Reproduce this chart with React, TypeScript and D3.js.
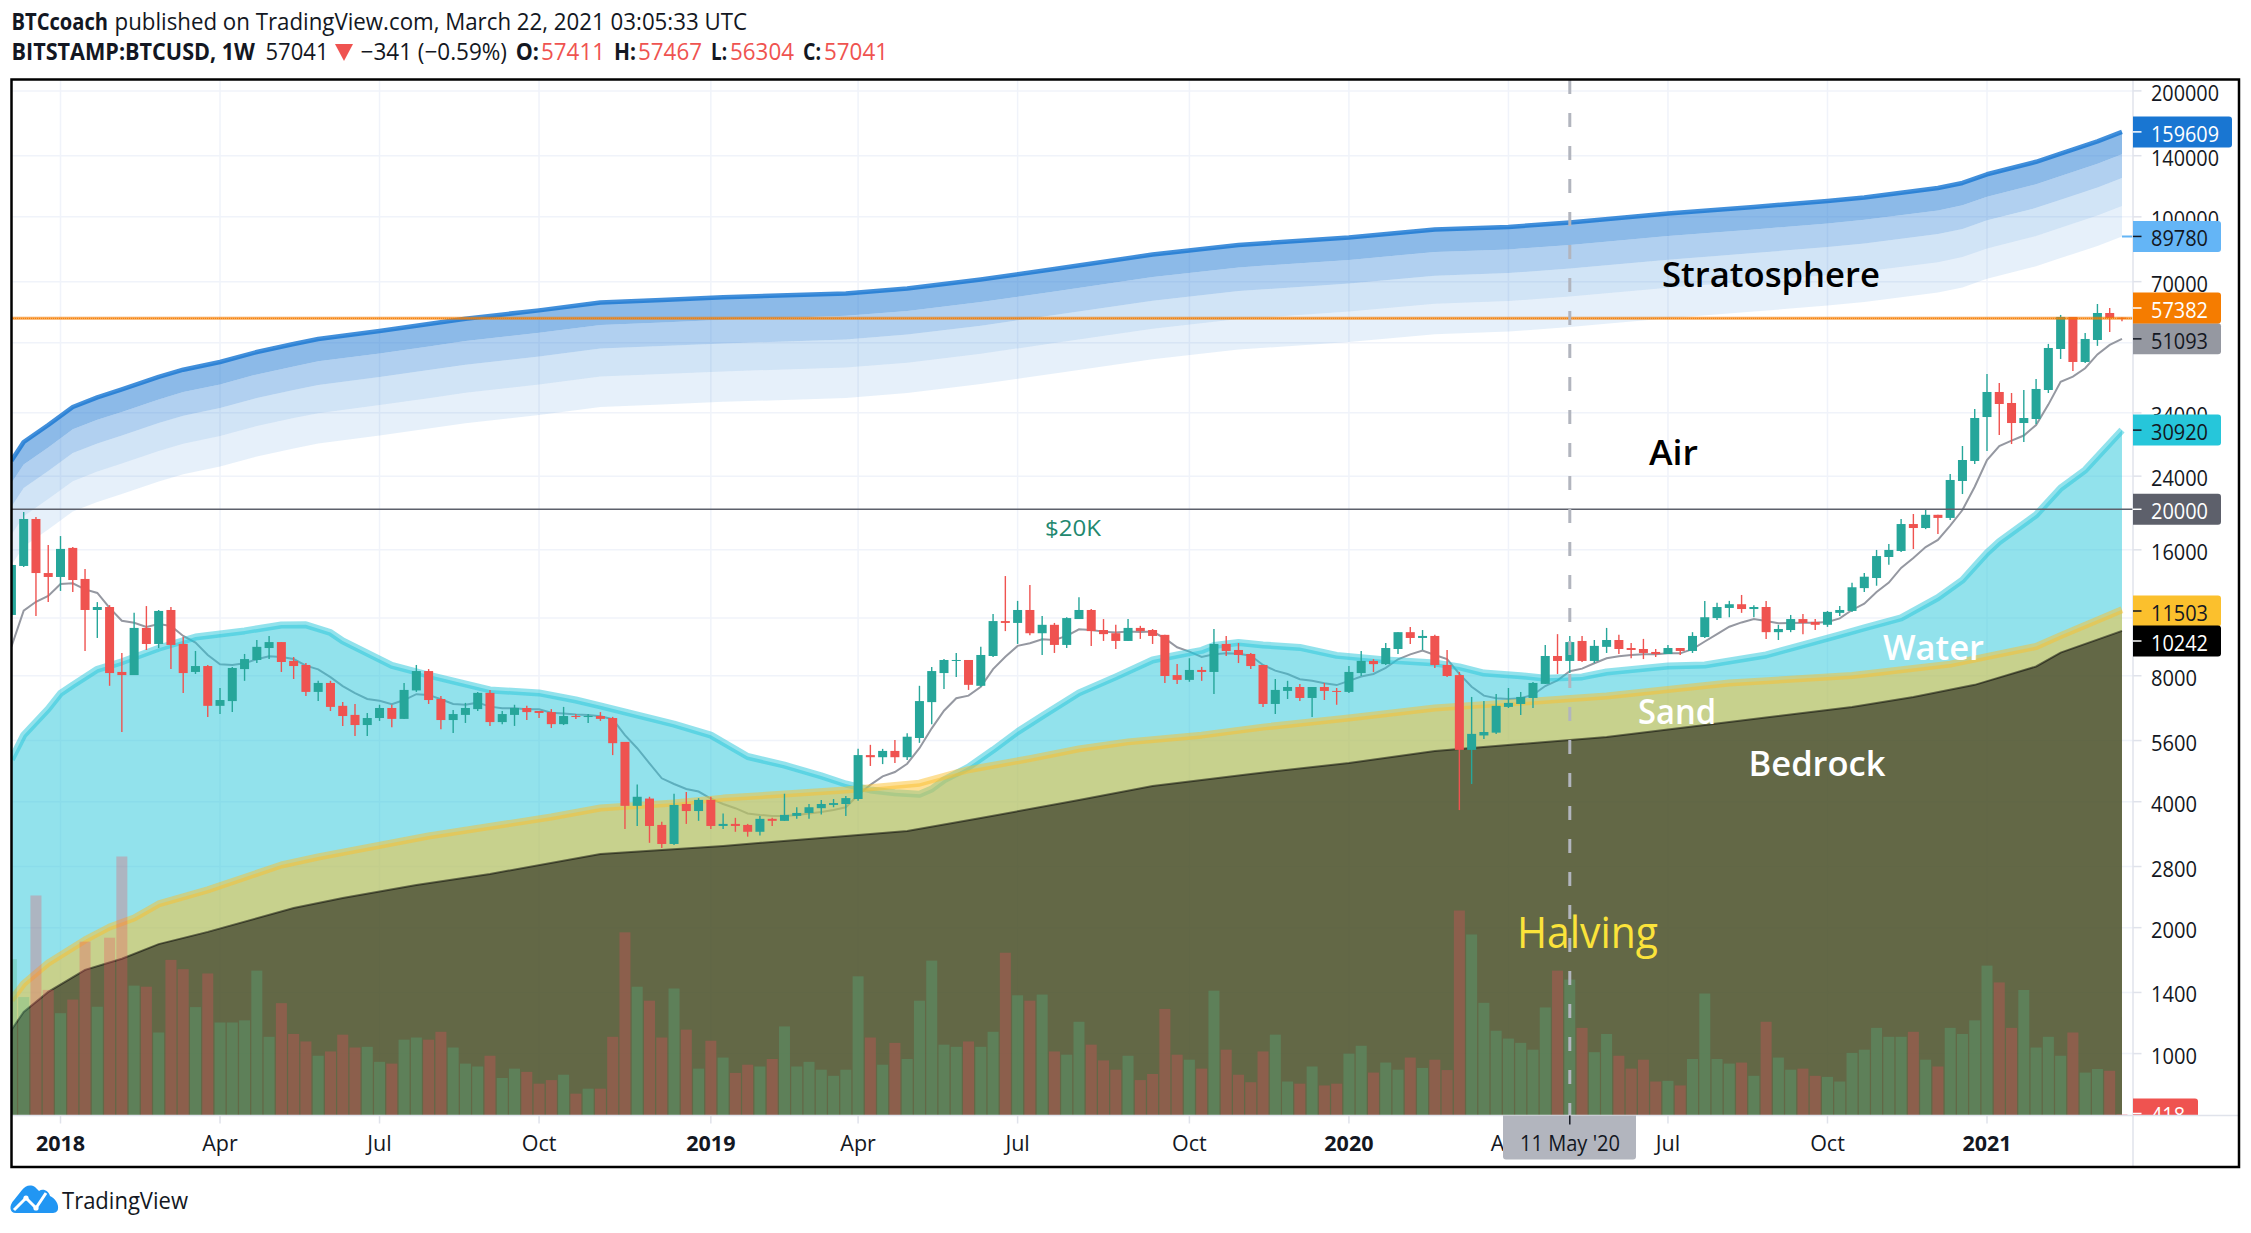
import React from 'react';
import * as d3 from 'd3';

// weekly [open, high, low, close]
const candles2017 = [
  [11180, 14800, 11050, 14720], [14640, 19700, 14560, 18960], [18960, 19170, 11110, 14080], [14080, 16430, 12000, 13780],
];
const candles2018 = [
  [13780, 17260, 12760, 16080], [16170, 16260, 12690, 13550], [13630, 14400, 9170, 11490], [11490, 12000, 9850, 11680],
  [11680, 11800, 7570, 8120], [8170, 9070, 5870, 8030], [8030, 11310, 8030, 10410], [10410, 11740, 9220, 9530],
  [9530, 11490, 9320, 11430], [11490, 11680, 8300, 9480], [9530, 9900, 7280, 8120], [8170, 9170, 8080, 8440],
  [8440, 8490, 6380, 6780], [6780, 7480, 6480, 7000], [6960, 8400, 6550, 8350], [8300, 9020, 7780, 8770],
  [8726, 9740, 8580, 9380], [9320, 9960, 8770, 9630], [9630, 9630, 8170, 8630], [8680, 8870, 7860, 8440],
  [8490, 8580, 7160, 7320], [7320, 7780, 6960, 7690], [7690, 7780, 6590, 6740], [6780, 6920, 6070, 6410],
  [6450, 6850, 5740, 6100], [6100, 6520, 5740, 6340], [6340, 6820, 6240, 6700], [6700, 6820, 6030, 6310],
  [6310, 7690, 6310, 7400], [7380, 8490, 7320, 8210], [8210, 8300, 6850, 7000], [7040, 7160, 5960, 6270],
  [6270, 6630, 5840, 6480], [6450, 6890, 6170, 6700], [6660, 7320, 6590, 7280], [7280, 7400, 6070, 6200],
  [6200, 6590, 6130, 6480], [6450, 6820, 6070, 6700], [6700, 6780, 6270, 6550], [6590, 6590, 6340, 6520],
  [6550, 6660, 6000, 6130], [6130, 6740, 6100, 6410], [6410, 6480, 6310, 6380], [6380, 6480, 6170, 6410],
  [6410, 6550, 6240, 6310], [6340, 6380, 5170, 5520], [5560, 5560, 3440, 3910], [3910, 4400, 3500, 4110],
  [4070, 4110, 3190, 3500], [3520, 3580, 3100, 3170], [3170, 4180, 3150, 3930], [3950, 4220, 3540, 3800],
  [3800, 4080, 3600, 4040],
];
const candles2019 = [
  [4040, 4110, 3440, 3500], [3500, 3750, 3440, 3540], [3540, 3660, 3390, 3500], [3520, 3540, 3300, 3390],
  [3390, 3700, 3320, 3640], [3640, 3660, 3500, 3600], [3600, 4180, 3600, 3720], [3700, 3880, 3640, 3760],
  [3760, 3950, 3640, 3880], [3860, 4040, 3730, 3950], [3930, 4060, 3880, 3970], [3950, 4130, 3700, 4080],
  [4060, 5350, 4020, 5170], [5170, 5470, 4870, 5110], [5110, 5350, 4920, 5290], [5290, 5620, 4950, 5110],
  [5110, 5830, 5030, 5720], [5680, 7570, 5530, 6960], [6920, 8400, 6130, 8210], [8120, 8770, 7440, 8726],
  [8680, 9070, 7950, 8726], [8726, 8726, 7400, 7610], [7570, 9380, 7530, 8970], [8920, 11240, 8870, 10810],
  [10810, 13850, 10230, 10700], [10700, 12080, 9530, 11490], [11490, 13190, 10000, 10110], [10110, 11110, 8970, 10590],
  [10590, 10700, 9070, 9480], [9480, 11040, 9320, 10990], [10930, 12330, 10930, 11490], [11490, 11550, 9430, 10230],
  [10290, 10930, 9690, 10060], [10110, 10600, 9270, 9690], [9690, 10930, 9690, 10410], [10410, 10530, 9800, 10230],
  [10290, 10350, 9530, 9960], [10020, 10020, 7690, 7990], [8030, 8530, 7650, 7820], [7820, 8810, 7740, 8260],
  [8260, 8400, 7780, 8170], [8170, 10350, 7240, 9530], [9530, 9960, 8920, 9170], [9220, 9580, 8580, 8970],
  [9020, 9070, 8300, 8440], [8490, 8490, 6740, 6850], [6850, 7860, 6480, 7400], [7360, 7780, 7040, 7520],
  [7520, 7650, 6960, 7080], [7080, 7520, 6380, 7520], [7520, 7690, 7000, 7360], [7360, 7480, 6820, 7320],
];
const candles2020 = [
  [7320, 8440, 7280, 8170], [8120, 9170, 7990, 8680], [8680, 8770, 8170, 8530], [8530, 9580, 8490, 9320],
  [9270, 10170, 9020, 10170], [10170, 10470, 9530, 9850], [9850, 10290, 9220, 9960], [9960, 10020, 8350, 8490],
  [8490, 9220, 7950, 7990], [8030, 8170, 3820, 5320], [5320, 7120, 4410, 5810], [5760, 6960, 5650, 5870],
  [5850, 7240, 5810, 6780], [6740, 7480, 6700, 6890], [6850, 7320, 6450, 7120], [7080, 7730, 6700, 7690],
  [7650, 9480, 7650, 8920], [8920, 10060, 8080, 8680], [8680, 9960, 8120, 9630], [9690, 9960, 8630, 8680],
  [8680, 9740, 8580, 9430], [9380, 10410, 9070, 9740], [9740, 10020, 9020, 9270], [9320, 9580, 8810, 9220],
  [9270, 9800, 8770, 9070], [9120, 9270, 8870, 9020], [9020, 9480, 9020, 9320], [9320, 9320, 8970, 9170],
  [9170, 10170, 9070, 9960], [9900, 12080, 9850, 11040], [10990, 11950, 10875, 11680], [11620, 12080, 11040, 11860],
  [11860, 12480, 11310, 11550], [11550, 11800, 11040, 11680], [11680, 12080, 9800, 10170], [10170, 10590, 9740, 10350],
  [10290, 11180, 10170, 10930], [10930, 11240, 10060, 10700], [10760, 10930, 10290, 10590], [10590, 11430, 10470, 11370],
  [11310, 11740, 11110, 11490], [11430, 13350, 11370, 13020], [12960, 14080, 12690, 13800], [13700, 15990, 13130, 15460],
  [15380, 16520, 14730, 15990], [15900, 18960, 15820, 18440], [18440, 19490, 16070, 18040], [18040, 20000, 17930, 19400],
  [19400, 19400, 17460, 19070], [19070, 24280, 18860, 23500], [23370, 28330, 21750, 26230], [26090, 34730, 25660, 33050],
];
const candles2021 = [
  [33230, 42100, 27570, 38140], [38140, 40100, 30090, 35700], [35900, 37930, 28640, 32150], [32150, 38560, 28960, 33050],
  [32870, 40970, 31980, 38780], [38560, 49690, 37930, 48590], [48320, 58280, 45740, 57640], [57640, 57640, 42800, 44990],
  [44990, 52770, 44740, 51060], [50780, 61900, 49160, 58910], [58910, 60560, 53060, 57320], [57411, 57467, 56304, 57041],
];
const candles = [...candles2017, ...candles2018, ...candles2019, ...candles2020, ...candles2021];

const volumes = [
  43700, 33100, 61500, 35100, 28600, 32400, 48600, 30400, 49700, 72400, 36300, 36000, 23200, 43500, 40900, 30300,
  39700, 26000, 26000, 26600, 40500, 22000, 31400, 22800, 20700, 16700, 17900, 22600, 19000, 19200, 15000, 14500,
  21200, 21800, 21200, 23400, 19000, 14500, 13700, 16700, 10500, 13100, 12200, 8900, 9900, 11400, 6100, 7500,
  7500, 22000, 51200, 36000, 32100, 21800, 35500, 24000, 13100, 20900, 16200, 11900, 14200, 13700, 15800, 24900,
  13700, 15000, 12800, 11100, 12800, 38900, 21800, 14200, 20300, 15800, 32100, 43300, 19800, 19200, 20700, 19200,
  23400, 45500, 33600, 32100, 33800, 17900, 17000, 26200, 19800, 15400, 12800, 16700, 9900, 11600, 29800, 17000,
  15600, 13100, 34900, 18400, 11400, 9300, 17900, 22600, 9500, 8900, 13700, 8400, 8900, 17300, 19500, 12000,
  14800, 12800, 16200, 13300, 15600, 12700, 57300, 50600, 31500, 23700, 21500, 20300, 18400, 30200, 40500, 38000,
  24500, 17700, 22800, 16700, 13100, 15600, 9500, 9700, 8400, 15800, 34100, 15800, 14500, 14800, 11100, 26200,
  16200, 12800, 13100, 11100, 10800, 9500, 17500, 18400, 24500, 22000, 22000, 23400, 15600, 13700, 24500, 22800,
  26600, 41900, 37200, 24500, 35100, 19000, 22000, 16700, 23200, 12000, 13000, 12500, 418,
];

const maValues = [
  9390, 11450, 12020, 12410, 13260, 13310, 12870, 12620, 11620, 10830, 10710, 10470, 10640, 10520, 9960, 9600,
  8970, 8520, 8490, 8570, 8760, 8910, 8870, 8770, 8460, 8290, 7940, 7560, 7270, 7040, 6970, 6840,
  7000, 7230, 7200, 7030, 6850, 6820, 6900, 6750, 6690, 6690, 6650, 6650, 6530, 6500, 6460, 6450,
  6400, 6300, 5770, 5370, 4940, 4550, 4410, 4290, 4230, 4070, 3950, 3860, 3750, 3720, 3700, 3700,
  3720, 3750, 3780, 3820, 3880, 4150, 4390, 4600, 4710, 4930, 5370, 5990, 6600, 7070, 7170, 7530,
  8300, 8880, 9430, 9570, 9780, 9740, 9960, 10330, 10290, 10200, 10150, 10200, 10180, 10200, 9830, 9360,
  9140, 8870, 9000, 9050, 9030, 8930, 8490, 8230, 8080, 7850, 7780, 7680, 7600, 7780, 7970, 8080,
  8360, 8760, 9000, 9190, 8970, 8770, 8080, 7530, 7170, 7070, 7040, 7070, 7200, 7560, 7800, 8200,
  8320, 8570, 8810, 8910, 8970, 9000, 9000, 9050, 9050, 9260, 9660, 10060, 10480, 10730, 10930, 10810,
  10680, 10700, 10710, 10710, 10750, 10970, 11490, 11900, 12690, 13360, 14480, 15300, 16240, 16890, 18280, 19920,
  22640, 26230, 28330, 29170, 30010, 31800, 35580, 40360, 41500, 43460, 46890, 49420, 51093,
];

// stratosphere band lines, sampled at these week numbers
const bandWeeks = [0, 1, 3, 5, 7, 9, 12, 14, 17, 20, 23, 25, 30, 34, 37, 43, 48, 53, 58, 68, 73, 79, 85, 93, 100, 109, 116, 122, 127, 135, 142, 148, 151, 157, 159, 161, 165, 167, 170, 172];
const bandTop = [26130, 28960, 31800, 35120, 37030, 38670, 41430, 43120, 44990, 47530, 49670, 51060, 53360, 55440, 57100, 59760, 62420, 63280, 64220, 65620, 67400, 70800, 75050, 81250, 85650, 89270, 93230, 94570, 96950, 101800, 105580, 109120, 111250, 117200, 120500, 126400, 135400, 141650, 151500, 159609];
const bandSecond = [23100, 25600, 28110, 31050, 32730, 34180, 36620, 38120, 39770, 42020, 43910, 45140, 47170, 49010, 50480, 52830, 55180, 55940, 56770, 58010, 59580, 62590, 66340, 71830, 75710, 78910, 82420, 83600, 85700, 89990, 93330, 96460, 98350, 103600, 106520, 111740, 119690, 125220, 133930, 141100];
const bandThird = [20280, 22470, 24680, 27250, 28740, 30010, 32150, 33460, 34910, 36880, 38540, 39620, 41410, 43020, 44310, 46370, 48440, 49110, 49830, 50920, 52300, 54940, 58240, 63050, 66460, 69270, 72350, 73390, 75230, 79000, 81930, 84680, 86330, 90950, 93510, 98090, 105070, 109920, 117560, 123860];
const bandFourth = [17380, 19260, 21150, 23350, 24620, 25720, 27550, 28670, 29920, 31610, 33030, 33950, 35480, 36870, 37970, 39740, 41510, 42080, 42710, 43640, 44820, 47080, 49910, 54030, 56960, 59370, 62000, 62890, 64470, 67700, 70210, 72570, 73980, 77940, 80130, 84060, 90040, 94200, 100750, 106140];
const bandBottom = [14700, 16290, 17890, 19760, 20830, 21750, 23300, 24260, 25310, 26740, 27940, 28720, 30020, 31190, 32120, 33620, 35110, 35600, 36120, 36910, 37910, 39830, 42220, 45700, 48180, 50210, 52440, 53200, 54530, 57260, 59390, 61380, 62580, 65930, 67780, 71100, 76160, 79680, 85220, 89780];

const waterWeeks = [0, 1, 3, 4, 5, 7, 9, 12, 15, 19, 22, 24, 26, 27, 31, 34, 39, 43, 46, 48, 54, 57, 60, 63, 66, 68, 70, 72, 74, 75, 76, 78, 80, 82, 84, 87, 90, 93, 95, 97, 98, 100, 102, 105, 108, 112, 116, 118, 120, 123, 125, 128, 130, 135, 138, 141, 143, 146, 149, 151, 154, 157, 159, 160, 161, 162, 165, 167, 169, 172];
const waterValues = [5046, 5770, 6665, 7260, 7600, 8290, 8640, 9310, 9900, 10240, 10580, 10590, 10150, 9690, 8470, 8030, 7400, 7280, 7000, 6780, 6130, 5770, 5130, 4890, 4610, 4410, 4267, 4200, 4170, 4290, 4510, 4840, 5317, 5880, 6410, 7280, 7950, 8726, 8970, 9200, 9450, 9610, 9480, 9350, 8950, 8726, 8580, 8400, 8120, 8000, 7890, 7950, 8170, 8440, 8490, 8770, 8970, 9480, 10020, 10410, 11000, 12300, 13550, 14600, 15730, 16740, 19400, 22470, 24830, 30920];

const sandWeeks = [0, 1, 3, 6, 8, 10, 12, 16, 22, 25, 34, 44, 48, 54, 58, 68, 74, 78, 83, 87, 91, 97, 102, 109, 116, 123, 130, 140, 150, 158, 165, 167, 172];
const sandValues = [1344, 1470, 1646, 1869, 2007, 2110, 2279, 2462, 2823, 2950, 3312, 3678, 3864, 3974, 4080, 4267, 4430, 4770, 5070, 5350, 5560, 5770, 6030, 6340, 6700, 6920, 7160, 7690, 8010, 8530, 9400, 9980, 11503];

const rockWeeks = [0, 1, 3, 6, 9, 12, 16, 23, 27, 33, 39, 48, 58, 68, 73, 79, 87, 93, 101, 109, 116, 130, 138, 150, 155, 160, 165, 167, 172];
const rockValues = [1139, 1258, 1404, 1585, 1685, 1827, 1954, 2229, 2355, 2530, 2688, 3001, 3136, 3312, 3404, 3657, 4038, 4360, 4660, 4950, 5290, 5710, 6100, 6740, 7120, 7610, 8420, 9090, 10242];

const priceTicks = [200000, 140000, 100000, 70000, 50000, 34000, 24000, 16000, 11000, 8000, 5600, 4000, 2800, 2000, 1400, 1000];
// these two have a grid line but their labels sit fully behind the price tags
const coveredTicks = [50000, 11000];
const timeTicks = [
  { week: 4, label: '2018', bold: true }, { week: 17, label: 'Apr' }, { week: 30, label: 'Jul' }, { week: 43, label: 'Oct' },
  { week: 57, label: '2019', bold: true }, { week: 69, label: 'Apr' }, { week: 82, label: 'Jul' }, { week: 96, label: 'Oct' },
  { week: 109, label: '2020', bold: true }, { week: 122, label: 'Apr' }, { week: 135, label: 'Jul' }, { week: 148, label: 'Oct' },
  { week: 161, label: '2021', bold: true },
];
const HALVING_WEEK = 127;
const RESISTANCE = 57382;
const BTC_20K = 20000;

const UP = '#26a69a';
const DOWN = '#ef5350';
const INK = '#131722';
const FONT = '"Open Sans", "Noto Sans", sans-serif';

const W = 2251;
const H = 1233;
const PLOT = { left: 11, top: 79, right: 2133, bottom: 1115.5, frameRight: 2239, frameBottom: 1167 };
const LABEL_NUDGE = 1.5;

const x = d3.scaleLinear().domain([4, 161]).range([60.5, 1987]);
const y = d3.scaleLog().domain([1000, 200000]).range([1053.6, 90.9]);
const volY = d3.scaleLinear().domain([0, 72400]).range([PLOT.bottom, 856.5]);

type Pt = [number, number];
const zip = (weeks: number[], vals: number[]): Pt[] => weeks.map((w, i) => [w, vals[i]]);

const linePath = d3.line<Pt>().x(d => x(d[0])).y(d => y(d[1]));
const floorArea = d3.area<Pt>().x(d => x(d[0])).y0(PLOT.bottom).y1(d => y(d[1]));
const bandArea = (upper: number[], lower: number[]) =>
  d3.area<number>()
    .x((_, i) => x(bandWeeks[i]))
    .y0((_, i) => y(lower[i]))
    .y1((_, i) => y(upper[i]))(bandWeeks) as string;

const T = ({ x: tx, y: ty, size = 20, fill = INK, weight = 400, anchor = 'start', len, children }: any) => (
  <text
    x={tx} y={ty} fontSize={size} fill={fill} fontWeight={weight} textAnchor={anchor} fontFamily={FONT}
    dominantBaseline="central" textLength={len} lengthAdjust={len ? 'spacingAndGlyphs' : undefined}
  >
    {children}
  </text>
);

const PriceTag = ({ cy, fill, color, width = 88, children }: any) => (
  <g>
    <path
      d={`M${PLOT.right} ${cy - 15.5}h${width - 3}q3 0 3 3v25q0 3 -3 3h${-(width - 3)}z`}
      fill={fill}
    />
    <line x1={PLOT.right} x2={PLOT.right + 8.5} y1={cy} y2={cy} stroke={color} strokeWidth={1.5} />
    <T x={2151} y={cy + LABEL_NUDGE} size={21.5} fill={color} len={children.length === 6 ? 68 : 57}>{children}</T>
  </g>
);

export default function App() {
  const water = zip(waterWeeks, waterValues);
  const sand = zip(sandWeeks, sandValues);
  const rock = zip(rockWeeks, rockValues);
  const maLine = maValues.map((v, i) => [i, v] as Pt);
  const halvingX = x(HALVING_WEEK);

  return (
    <svg
      width={W} height={H} viewBox={`0 0 ${W} ${H}`}
      style={{ position: 'absolute', left: 0, top: 0, display: 'block', background: '#fff' }}
    >
      <defs>
        <clipPath id="plot"><rect x={PLOT.left} y={PLOT.top} width={PLOT.right - PLOT.left} height={PLOT.bottom - PLOT.top} /></clipPath>
        <clipPath id="scale"><rect x={PLOT.right} y={PLOT.top} width={105} height={PLOT.bottom - PLOT.top} /></clipPath>
      </defs>

      {/* header */}
      <T x={11.5} y={21} size={23} weight={700} len={96.5}>BTCcoach</T>
      <T x={114.5} y={21} size={23} len={632.5}>published on TradingView.com, March 22, 2021 03:05:33 UTC</T>
      <T x={11.5} y={51} size={23} weight={700} len={243.5}>BITSTAMP:BTCUSD, 1W</T>
      <T x={265.5} y={51} size={23} len={63}>57041</T>
      <path d="M335 44h18l-9 17z" fill={DOWN} />
      <T x={360.6} y={51} size={23} len={146.4}>−341 (−0.59%)</T>
      <T x={515.8} y={51} size={23} weight={700} len={23.2}>O:</T>
      <T x={541} y={51} size={23} fill={DOWN} len={64}>57411</T>
      <T x={614} y={51} size={23} weight={700} len={22}>H:</T>
      <T x={638} y={51} size={23} fill={DOWN} len={64}>57467</T>
      <T x={711} y={51} size={23} weight={700} len={16}>L:</T>
      <T x={730} y={51} size={23} fill={DOWN} len={64}>56304</T>
      <T x={803} y={51} size={23} weight={700} len={18}>C:</T>
      <T x={824} y={51} size={23} fill={DOWN} len={64}>57041</T>

      {/* grid */}
      <g stroke="#f0f3fa" strokeWidth={1.5}>
        {priceTicks.map(t => <line key={t} x1={PLOT.left} x2={PLOT.right} y1={y(t)} y2={y(t)} />)}
        {timeTicks.map(t => <line key={t.week} x1={x(t.week)} x2={x(t.week)} y1={PLOT.top} y2={PLOT.bottom} />)}
      </g>

      <g clipPath="url(#plot)">
        {/* moving average sits under the fills */}
        <path d={linePath(maLine) as string} fill="none" stroke="#9598a1" strokeWidth={2} />

        {/* stratosphere */}
        <path d={bandArea(bandTop, bandSecond)} fill="rgba(25,118,210,0.5)" />
        <path d={bandArea(bandSecond, bandThird)} fill="rgba(25,118,210,0.34)" />
        <path d={bandArea(bandThird, bandFourth)} fill="rgba(25,118,210,0.2)" />
        <path d={bandArea(bandFourth, bandBottom)} fill="rgba(25,118,210,0.11)" />
        <path d={linePath(zip(bandWeeks, bandTop)) as string} fill="none" stroke="rgba(25,118,210,0.82)" strokeWidth={4.5} strokeLinejoin="round" />
        <line x1={x(172)} x2={PLOT.right} y1={y(89780)} y2={y(89780)} stroke="#64b5f6" strokeWidth={2} />

        {/* water, sand, bedrock all fill down to the floor */}
        <path d={floorArea(water) as string} fill="rgba(38,198,218,0.5)" />
        <path d={linePath(water) as string} fill="none" stroke="rgba(38,198,218,0.5)" strokeWidth={7} strokeLinejoin="round" />
        <path d={floorArea(sand) as string} fill="rgba(251,192,45,0.5)" />
        <path d={linePath(sand) as string} fill="none" stroke="rgba(251,192,45,0.5)" strokeWidth={7} strokeLinejoin="round" />
        <path d={floorArea(rock) as string} fill="rgba(0,0,0,0.5)" />
        <path d={linePath(rock) as string} fill="none" stroke="rgba(0,0,0,0.5)" strokeWidth={2} />

        {/* volume */}
        {volumes.map((v, i) => {
          const up = candles[i][3] >= candles[i][0];
          return (
            <rect
              key={i} x={x(i) - 5.5} width={11} y={volY(v)} height={PLOT.bottom - volY(v)}
              fill={up ? 'rgba(83,185,135,0.3)' : 'rgba(235,77,92,0.3)'}
            />
          );
        })}

        {/* candles */}
        {candles.map(([o, h, l, c], i) => {
          const up = c >= o;
          const col = up ? UP : DOWN;
          const top = y(Math.max(o, c));
          const bot = y(Math.min(o, c));
          return (
            <g key={i}>
              <line x1={x(i)} x2={x(i)} y1={y(h)} y2={y(l)} stroke={col} strokeWidth={1.4} />
              <rect x={x(i) - 4.5} width={9} y={top} height={Math.max(bot - top, 1)} fill={col} />
            </g>
          );
        })}

        {/* horizontal levels */}
        <line x1={PLOT.left} x2={PLOT.right} y1={y(BTC_20K)} y2={y(BTC_20K)} stroke="#5d606b" strokeWidth={1.5} />
        <line x1={PLOT.left} x2={PLOT.right} y1={y(RESISTANCE) + 0.6} y2={y(RESISTANCE) + 0.6} stroke="rgba(245,124,0,0.65)" strokeWidth={3} />
        <line x1={PLOT.left} x2={PLOT.right} y1={y(RESISTANCE) + 0.6} y2={y(RESISTANCE) + 0.6} stroke="#f57c00" strokeWidth={1} strokeDasharray="1 1" />

        {/* halving marker */}
        <line x1={halvingX} x2={halvingX} y1={PLOT.top + 1} y2={PLOT.bottom} stroke="#b2b5be" strokeWidth={3} strokeDasharray="14 19" />

        {/* annotations */}
        <T x={1662} y={273} size={35} weight={600} fill="#000" len={218}>Stratosphere</T>
        <T x={1649} y={451} size={35} weight={600} fill="#000" len={49}>Air</T>
        <T x={1045} y={527} size={22} fill="#22886f" len={56}>$20K</T>
        <T x={1883} y={646} size={35} weight={600} fill="#fff" len={101}>Water</T>
        <T x={1638} y={710} size={35} weight={600} fill="#fff" len={78}>Sand</T>
        <T x={1748.5} y={762} size={35} weight={600} fill="#fff" len={137}>Bedrock</T>
        <T x={1517} y={931} size={43} weight={500} fill="#fbe33a" len={141}>Halving</T>
      </g>

      {/* price scale */}
      <line x1={PLOT.right} x2={PLOT.right} y1={PLOT.top} y2={PLOT.frameBottom} stroke="#e0e3eb" strokeWidth={1.5} />
      {priceTicks.map(t => (
        <g key={t}>
          <line x1={PLOT.right} x2={PLOT.right + 8.5} y1={y(t)} y2={y(t)} stroke="#e0e3eb" strokeWidth={1.5} />
          {!coveredTicks.includes(t) && (
            <T x={2151} y={y(t) + LABEL_NUDGE} size={21.5} len={String(t).length === 6 ? 68 : String(t).length === 5 ? 57 : 46}>{t}</T>
          )}
        </g>
      ))}
      <PriceTag cy={y(159609)} fill="#1976d2" color="#fff" width={99}>159609</PriceTag>
      <PriceTag cy={y(89780)} fill="#64b5f6" color={INK}>89780</PriceTag>
      <PriceTag cy={y(51093)} fill="#9598a1" color={INK}>51093</PriceTag>
      <PriceTag cy={308} fill="#f57c00" color="#fff">57382</PriceTag>
      <PriceTag cy={y(30920)} fill="#26c6da" color={INK}>30920</PriceTag>
      <PriceTag cy={y(BTC_20K)} fill="#5d606b" color="#fff">20000</PriceTag>
      <PriceTag cy={611} fill="#fbc02d" color={INK}>11503</PriceTag>
      <PriceTag cy={641} fill="#000" color="#fff">10242</PriceTag>
      <g clipPath="url(#scale)">
        <path d={`M${PLOT.right} 1098.6h62q3 0 3 3v30h-65z`} fill="#ef5350" />
        <line x1={PLOT.right} x2={PLOT.right + 8.5} y1={1113.5} y2={1113.5} stroke="#fff" strokeWidth={1.5} />
        <T x={2151} y={1114.5} size={21.5} fill="#fff" len={34}>418</T>
      </g>

      {/* time scale */}
      <line x1={PLOT.left} x2={PLOT.right + 105} y1={PLOT.bottom} y2={PLOT.bottom} stroke="#e0e3eb" strokeWidth={1.5} />
      {timeTicks.map(t => (
        <g key={t.week}>
          <line x1={x(t.week)} x2={x(t.week)} y1={PLOT.bottom} y2={PLOT.bottom + 8} stroke="#e0e3eb" strokeWidth={1.5} />
          <T x={x(t.week)} y={1142.5} size={21.5} weight={t.bold ? 700 : 400} anchor="middle">{t.label}</T>
        </g>
      ))}
      <path d={`M1503 ${PLOT.bottom}h133v41q0 3 -3 3h-127q-3 0 -3 -3z`} fill="#b2b5be" />
      <line x1={halvingX} x2={halvingX} y1={PLOT.bottom} y2={PLOT.bottom + 9} stroke={INK} strokeWidth={1.5} />
      <T x={1570} y={1142.5} size={21.5} anchor="middle" len={100}>11 May '20</T>

      {/* frame */}
      <rect x={11.5} y={79.5} width={PLOT.frameRight - 11.5} height={PLOT.frameBottom - 79.5} fill="none" stroke="#000" strokeWidth={2.5} />

      {/* TradingView logo */}
      <path
        d="M16 1213C9 1213 9 1205 14 1200L22 1190C25 1186 30 1184 35 1187L39 1191C43 1188 49 1191 50 1196C55 1198 59 1204 58 1209C57.5 1212 55 1213 52 1213Z"
        fill="#2196f3"
      />
      <path d="M14 1210L26 1198L36 1208L46 1193" fill="none" stroke="#fff" strokeWidth={3} />
      <circle cx={26} cy={1198} r={2.6} fill="#fff" />
      <circle cx={36} cy={1208} r={2.6} fill="#fff" />
      <T x={62} y={1199} size={24} len={126}>TradingView</T>
    </svg>
  );
}
